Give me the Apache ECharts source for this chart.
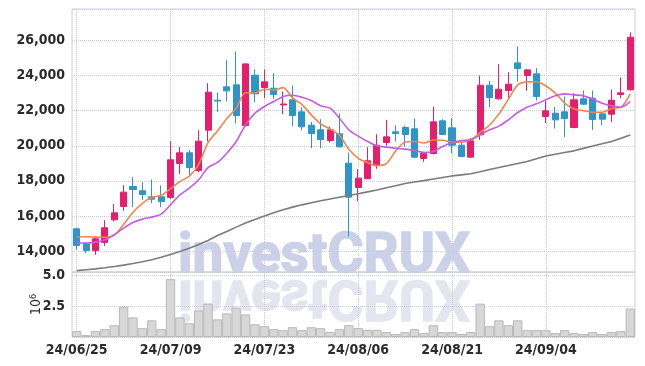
<!DOCTYPE html>
<html>
<head>
<meta charset="utf-8">
<script src="https://cdn.jsdelivr.net/npm/echarts@6/dist/echarts.min.js"></script>
<style>
html, body { margin: 0; padding: 0; background: #fff; }
#chart { width: 645px; height: 366px; }
</style>
</head>
<body>
<div id="chart"></div>
<script>
var dates = [
	"24/06/25", "24/06/26", "24/06/27", "24/06/28", "24/07/01", "24/07/02", "24/07/03", "24/07/04", "24/07/05", "24/07/08",
	"24/07/09", "24/07/10", "24/07/11", "24/07/12", "24/07/15", "24/07/16", "24/07/17", "24/07/18", "24/07/19", "24/07/22",
	"24/07/23", "24/07/24", "24/07/25", "24/07/26", "24/07/29", "24/07/30", "24/07/31", "24/08/01", "24/08/02", "24/08/05",
	"24/08/06", "24/08/07", "24/08/08", "24/08/09", "24/08/12", "24/08/13", "24/08/14", "24/08/16", "24/08/19", "24/08/20",
	"24/08/21", "24/08/22", "24/08/23", "24/08/26", "24/08/27", "24/08/28", "24/08/29", "24/08/30", "24/09/02", "24/09/03",
	"24/09/04", "24/09/05", "24/09/06", "24/09/09", "24/09/10", "24/09/11", "24/09/12", "24/09/13", "24/09/19", "24/09/20"
];

var tickLabels = ["24/06/25", "24/07/09", "24/07/23", "24/08/06", "24/08/21", "24/09/04"];

var openVals = [
	15265, 14410, 14030, 14486, 15778, 16538, 17678, 17431, 17089, 17089,
	17051, 18989, 19597, 18590, 20889, 22600, 23359, 23473, 21155, 24024,
	23321, 23283, 22330, 22618, 21934, 21174, 20908, 20300, 20680, 19008,
	17621, 18115, 18875, 20186, 20794, 21041, 20965, 19274, 19559, 21421,
	21022, 20034, 19350, 20623, 23454, 22675, 23150, 24727, 24005, 24100,
	21668, 21858, 21934, 21041, 22675, 22713, 21820, 21801, 22922, 23188
];
var closeVals = [
	14315, 14030, 14695, 15322, 16177, 17355, 17507, 17222, 16956, 16823,
	19198, 19597, 18761, 20262, 23055, 22550, 23131, 21725, 24670, 22960,
	23644, 22922, 22380, 21725, 21079, 20699, 20357, 20908, 19939, 17070,
	18153, 19141, 20034, 20509, 20699, 20642, 19350, 19578, 21364, 20642,
	20034, 19388, 20281, 23454, 22751, 23226, 23511, 24404, 24328, 22808,
	21991, 21478, 21554, 22618, 22371, 21497, 21516, 22599, 23017, 26190
];
var lowVals = [
	14068, 13878, 13779, 14284, 15683, 16291, 16500, 16918, 16728, 16500,
	16975, 18381, 18343, 18495, 20243, 21934, 22523, 21269, 21100, 22485,
	22713, 22675, 21801, 21117, 20870, 19863, 19863, 20186, 19900, 14828,
	16823, 18100, 18685, 19996, 20243, 19958, 19312, 19084, 19500, 20604,
	19578, 19350, 19312, 20338, 22200, 22618, 22713, 23663, 23131, 22580,
	21288, 20984, 20490, 21000, 22333, 20908, 21174, 21364, 22713, 23150
];
var highVals = [
	15300, 14486, 14830, 15759, 16671, 17754, 18210, 17925, 18077, 17735,
	20243, 19939, 19749, 20889, 23568, 23036, 24879, 25373, 24700, 24366,
	24347, 24138, 23093, 23435, 22200, 21364, 21516, 21098, 21839, 19616,
	18666, 19920, 20661, 21478, 21174, 21136, 21554, 19654, 22238, 21516,
	21573, 20281, 20433, 24005, 23701, 24651, 24195, 25677, 24385, 24423,
	22542, 22200, 22808, 22998, 23150, 23150, 21858, 23207, 23891, 26475
];

// moving averages
var ma5 = [
	14800, 14810, 14790, 14780, 14908, 15516, 16211, 16717, 17043, 17173,
	17541, 17959, 18271, 18928, 20175, 20845, 21552, 22145, 23026, 23007,
	23226, 23184, 23315, 22726, 22350, 21761, 21248, 20954, 20596, 19795,
	19285, 19042, 18867, 18981, 19707, 20205, 20247, 20156, 20327, 20315,
	20194, 20201, 20342, 20760, 21182, 21820, 22645, 23469, 23644, 23655,
	23408, 23002, 22432, 22090, 22002, 21904, 21911, 22120, 22200, 22964
];
var ma20 = [
	14470, 14450, 14505, 14638, 14923, 15303, 15626, 15816, 15930, 16101,
	16633, 17203, 17583, 18058, 18750, 19046, 19578, 20243, 21193, 21858,
	22238, 22523, 22808, 22884, 22770, 22580, 22276, 22143, 21573, 20908,
	20550, 20243, 19996, 19920, 19863, 19806, 19730, 19616, 19673, 19958,
	20186, 20300, 20338, 20623, 20908, 21120, 21478, 21896, 22200, 22390,
	22618, 22846, 22960, 22903, 22846, 22656, 22428, 22276, 22200, 22523
];
var maLong = [
	12880, 12930, 12980, 13040, 13110, 13190, 13280, 13380, 13500, 13640,
	13800, 13970, 14160, 14370, 14600, 14880, 15110, 15360, 15590, 15800,
	16000, 16180, 16350, 16500, 16630, 16750, 16860, 16960, 17060, 17160,
	17260, 17370, 17480, 17600, 17720, 17850, 17930, 18010, 18100, 18190,
	18280, 18340, 18400, 18520, 18650, 18760, 18870, 18990, 19100, 19260,
	19420, 19520, 19620, 19710, 19850, 19990, 20110, 20240, 20430, 20620
];

// volume, millions of shares
var volumes = [
	0.48, 0.16, 0.48, 0.64, 0.96, 2.48, 1.60, 0.72, 1.36, 0.64,
	4.72, 1.60, 1.12, 2.16, 2.72, 1.44, 1.92, 2.40, 1.84, 1.04,
	0.88, 0.64, 0.56, 0.80, 0.56, 0.80, 0.72, 0.40, 0.64, 0.96,
	0.72, 0.59, 0.59, 0.40, 0.24, 0.40, 0.64, 0.32, 0.96, 0.40,
	0.40, 0.24, 0.40, 2.72, 0.88, 1.36, 0.96, 1.36, 0.56, 0.56,
	0.56, 0.32, 0.56, 0.32, 0.24, 0.40, 0.24, 0.40, 0.48, 2.32
];

var upColor = "#e51f6b",
	downColor = "#2d95c7",
	gridLine = "#c7cadc",
	labelFont = "'DejaVu Sans Condensed', 'DejaVu Sans', sans-serif",
	labelColor = "#2b2b2b",
	candles = [],
	i;

for (i = 0; i < dates.length; i++)
{
	candles.push([openVals[i], closeVals[i], lowVals[i], highVals[i]]);
}

var vlines = {
	silent: true,
	symbol: "none",
	label: { show: false },
	lineStyle: { type: "dotted", color: gridLine, width: 1 },
	data: tickLabels.map(function(d) { return { xAxis: d }; })
};

var chart = echarts.init(document.getElementById("chart"), null, { renderer: "canvas" });

chart.setOption({
	animation: false,
	backgroundColor: "#fff",
	graphic: [
		{
			type: "text",
			x: 178,
			y: 258,
			z: -10,
			silent: true,
			style: {
				text: "investCRUX",
				font: "bold 55px Roboto",
				fill: "#cbd1e8",
				stroke: "#cbd1e8",
				lineWidth: 1.5,
				textVerticalAlign: "middle"
			}
		},
		{
			type: "text",
			x: 178,
			y: 295,
			scaleY: -1,
			z: -10,
			silent: true,
			style: {
				text: "investCRUX",
				font: "bold 55px Roboto",
				fill: "#e4e5ef",
				stroke: "#e4e5ef",
				lineWidth: 1.5,
				textVerticalAlign: "middle"
			}
		}
	],
	grid: [
		{ left: 72, right: 10, top: 9, height: 263, show: true, borderColor: "#cfd0d8", borderWidth: 1, backgroundColor: "transparent" },
		{ left: 72, right: 10, top: 272, height: 65, show: true, borderColor: "#cfd0d8", borderWidth: 1, backgroundColor: "transparent" }
	],
	xAxis: [
		{
			type: "category",
			gridIndex: 0,
			data: dates,
			boundaryGap: true,
			axisLine: { show: false },
			axisTick: { show: false },
			axisLabel: { show: false },
			splitLine: { show: false }
		},
		{
			type: "category",
			gridIndex: 1,
			data: dates,
			boundaryGap: true,
			axisLine: { show: false },
			axisTick: { show: false },
			splitLine: { show: false },
			axisLabel: {
				interval: function(idx, val) { return tickLabels.indexOf(val) >= 0; },
				color: labelColor,
				fontFamily: labelFont,
				fontWeight: "bold",
				fontSize: 14,
				margin: 6
			}
		}
	],
	yAxis: [
		{
			type: "value",
			gridIndex: 0,
			min: 12800,
			max: 27800,
			splitNumber: 7,
			axisLine: { show: false },
			axisTick: { show: false },
			splitLine: { lineStyle: { type: "dotted", color: gridLine } },
			axisLabel: {
				showMinLabel: false,
				showMaxLabel: false,
				color: labelColor,
				fontFamily: labelFont,
				fontWeight: "bold",
				fontSize: 14,
				margin: 7,
				formatter: function(v) {
					return v % 2000 === 0 ? v.toLocaleString("en-US") : "";
				}
			}
		},
		{
			type: "value",
			gridIndex: 1,
			min: 0,
			max: 5.3,
			interval: 2.5,
			axisLine: { show: false },
			axisTick: { show: false },
			splitLine: { lineStyle: { type: "dotted", color: gridLine } },
			name: "10{s|6}",
			nameLocation: "middle",
			nameRotate: 90,
			nameGap: 28,
			nameMoveOverlap: false,
			nameTextStyle: {
				color: labelColor,
				fontFamily: labelFont,
				fontSize: 14,
				rich: {
					s: { fontSize: 9, fontFamily: labelFont, color: labelColor, verticalAlign: "top", padding: [0, 0, 6, 0] }
				}
			},
			axisLabel: {
				showMinLabel: false,
				showMaxLabel: false,
				color: labelColor,
				fontFamily: labelFont,
				fontWeight: "bold",
				fontSize: 14,
				margin: 7,
				formatter: function(v) {
					return v === 0 || v % 2.5 !== 0 ? "" : v.toFixed(1);
				}
			}
		}
	],
	series: [
		{
			name: "price",
			type: "candlestick",
			xAxisIndex: 0,
			yAxisIndex: 0,
			data: candles,
			barWidth: "70%",
			itemStyle: {
				color: upColor,
				color0: downColor,
				borderColor: upColor,
				borderColor0: downColor,
				borderWidth: 1
			},
			markLine: vlines,
			z: 5
		},
		{
			name: "ma5",
			type: "line",
			xAxisIndex: 0,
			yAxisIndex: 0,
			data: ma5,
			symbol: "none",
			smooth: 0.3,
			lineStyle: { color: "#f0864e", width: 1.6 },
			z: 6
		},
		{
			name: "ma20",
			type: "line",
			xAxisIndex: 0,
			yAxisIndex: 0,
			data: ma20,
			symbol: "none",
			smooth: 0.3,
			lineStyle: { color: "#c65be9", width: 1.6 },
			z: 6
		},
		{
			name: "malong",
			type: "line",
			xAxisIndex: 0,
			yAxisIndex: 0,
			data: maLong,
			symbol: "none",
			lineStyle: { color: "#7b7b7b", width: 1.6 },
			z: 6
		},
		{
			name: "volume",
			type: "bar",
			xAxisIndex: 1,
			yAxisIndex: 1,
			data: volumes,
			barCategoryGap: "0%",
			itemStyle: {
				color: "#d7d7d7",
				borderColor: "#b9b9b9",
				borderWidth: 1
			},
			markLine: vlines,
			z: 5
		}
	]
});
</script>
</body>
</html>
